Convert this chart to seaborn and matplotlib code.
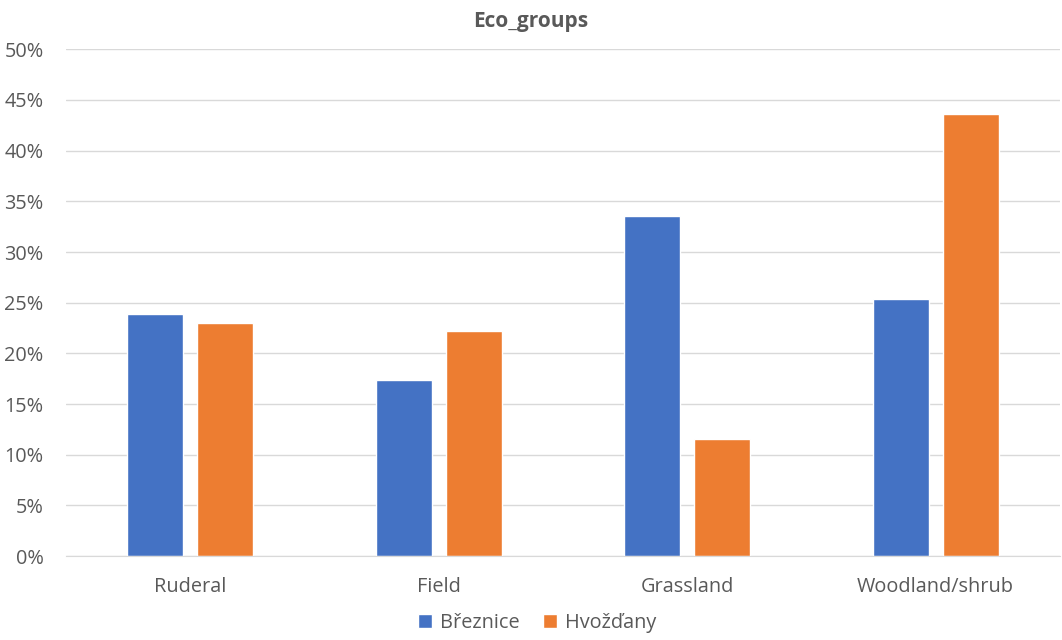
import pandas as pd
import matplotlib.pyplot as plt
import seaborn as sns
from matplotlib.ticker import PercentFormatter

# values (fractions)
groups = ['Ruderal', 'Field', 'Grassland', 'Woodland/shrub']
sites = ['Březnice', 'Hvožďany']
breznice = [0.239, 0.174, 0.336, 0.254]
hvozdany = [0.230, 0.222, 0.116, 0.436]
colors = ['#4472C4', '#ED7D31']

df = pd.DataFrame({
    'group': groups * 2,
    'site': [sites[0]] * len(groups) + [sites[1]] * len(groups),
    'share': breznice + hvozdany,
})

sns.set_style('white')
plt.rcParams['font.family'] = ['Open Sans', 'DejaVu Sans']
text_color = '#595959'

fig = plt.figure(figsize=(10.62, 6.4), dpi=100)
ax = fig.add_axes([0.062, 0.131, 0.936, 0.792])

sns.barplot(data=df, x='group', y='share', hue='site', palette=colors,
            width=0.563, gap=0.2, saturation=1, ax=ax)

ax.set_ylim(0, 0.5)
ax.set_yticks([i * 0.05 for i in range(11)])
ax.yaxis.set_major_formatter(PercentFormatter(1.0, decimals=0))
ax.grid(axis='y', color='#d9d9d9', linewidth=1)
ax.set_axisbelow(True)
for s in ['top', 'right', 'left']:
    ax.spines[s].set_visible(False)
ax.spines['bottom'].set_color('#d9d9d9')
ax.tick_params(axis='both', length=0, labelsize=14.3, colors=text_color)
ax.tick_params(axis='x', pad=15)
ax.tick_params(axis='y', pad=16)
ax.set_xlabel('')
ax.set_ylabel('')

# title centred on the whole figure, like the original
fig.text(0.5, 0.967, 'Eco_groups', ha='center', va='center', fontsize=15,
         fontweight='bold', color=text_color)

sns.move_legend(ax, 'center', bbox_to_anchor=(0.506, 0.026),
                bbox_transform=fig.transFigure, ncol=2,
                frameon=False, title=None, fontsize=14.3, handlelength=0.7,
                handleheight=0.7, columnspacing=1.2, handletextpad=0.4)
for t in ax.get_legend().get_texts():
    t.set_color(text_color)

fig.savefig('out.png', dpi=100)
